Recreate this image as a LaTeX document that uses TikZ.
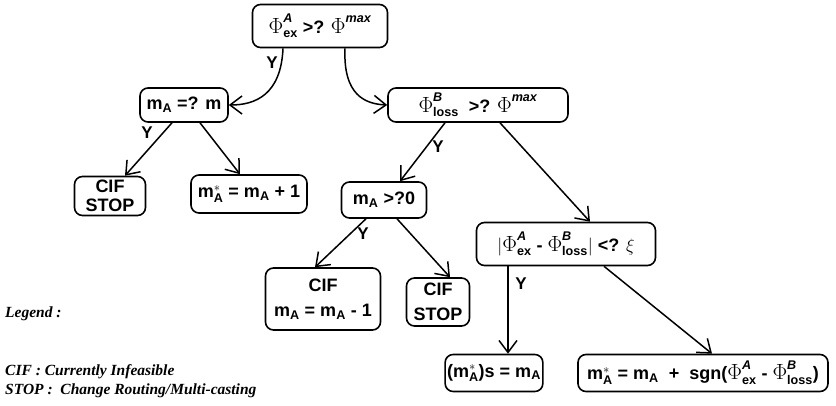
\RequirePackage{fix-cm}
\documentclass[tikz,border=0pt]{standalone}
\usepackage{amsmath}
\usepackage{fontspec}
\setsansfont{Liberation Sans}
\newfontfamily\legendfont{Liberation Serif}
\usetikzlibrary{arrows.meta,calc}
\tikzset{
  box/.style={draw,line width=1.6pt,rounded corners=8pt,align=center,inner sep=2pt,
    font=\sffamily\bfseries\fontsize{18}{19}\selectfont},
  arr/.style={line width=1.5pt,-{Straight Barb[length=12pt,width=18pt,line width=1.5pt]}},
  ylab/.style={font=\sffamily\bfseries\fontsize{17}{18}\selectfont,inner sep=0pt},
  legtext/.style={font=\legendfont\bfseries\itshape\fontsize{15.5}{17}\selectfont,anchor=west,inner sep=0pt}
}
\newcommand{\sA}{\text{\itshape A}}
\newcommand{\sB}{\text{\itshape B}}
\newcommand{\smax}{\text{\itshape max}}
\newcommand{\Ph}{\text{\fontsize{22}{22}\selectfont$\Phi$}}
\begin{document}
\begin{tikzpicture}[x=1pt,y=-1pt]
\useasboundingbox (0,0) rectangle (836,406);
\node[box,minimum width=135pt,minimum height=43pt] (top) at (320,26)
  {$\Ph^{\sA}_{\text{ex}}$ >? $\Ph^{\smax}$};
\node[box,minimum width=88pt,minimum height=34pt] (mq) at (184,105)
  {m$_{\text{A}}$ =? m};
\node[box,minimum width=180pt,minimum height=34pt] (loss) at (478,105)
  {$\Ph^{\sB}_{\text{loss}}$\ \ >? $\Ph^{\smax}$};
\node[box,minimum width=71pt,minimum height=39pt,inner sep=0pt] (cs1) at (110,196)
  {CIF\\[0pt]STOP};
\node[box,minimum width=116pt,minimum height=38pt] (mstar) at (249,194)
  {m$^{\ast}_{\text{A}}$ = m$_{\text{A}}$ + 1};
\node[box,minimum width=85pt,minimum height=36pt] (mgt) at (384,200)
  {m$_{\text{A}}$ >?0};
\node[box,minimum width=179pt,minimum height=43pt] (abs) at (566,244)
  {$|\Ph^{\sA}_{\text{ex}}$ - $\Ph^{\sB}_{\text{loss}}|$ <? $\xi$};
\node[box,minimum width=115pt,minimum height=62pt] (cifm) at (323,299)
  {CIF\\[6pt]m$_{\text{A}}$ = m$_{\text{A}}$ - 1};
\node[box,minimum width=63pt,minimum height=48pt,inner sep=0pt] (cs2) at (438,302)
  {CIF\\[6pt]STOP};
\node[box,minimum width=94pt,minimum height=37pt] (ms) at (494,373)
  {(m$^{\ast}_{\text{A}}$)s = m$_{\text{A}}$};
\node[box,minimum width=250pt,minimum height=37pt] (sgn) at (703,373)
  {m$^{\ast}_{\text{A}}$ = m$_{\text{A}}$\ \ +\ \ sgn($\Ph^{\sA}_{\text{ex}}$ - $\Ph^{\sB}_{\text{loss}}$)};
% connectors
\draw[arr] ([xshift=-37pt]top.south) .. controls (281,95) and (255,105) .. (mq.east);
\draw[arr] ([xshift=25pt]top.south) .. controls (343,95) and (365,104) .. (loss.west);
\draw[arr] ([xshift=-12pt]mq.south) -- ([xshift=15pt]cs1.north);
\draw[arr] ([xshift=16pt]mq.south) -- ([xshift=-9pt]mstar.north);
\draw[arr] ([xshift=-33pt]loss.south) -- ([xshift=16pt]mgt.north);
\draw[arr] ([xshift=22pt]loss.south) -- ([xshift=24pt]abs.north);
\draw[arr] ([xshift=-18pt]mgt.south) -- ([xshift=-8pt]cifm.north);
\draw[arr] ([xshift=13pt]mgt.south) -- ([xshift=12pt]cs2.north);
\draw[arr] ([xshift=-58pt]abs.south) -- ([xshift=14pt]ms.north);
\draw[arr] ([xshift=38pt]abs.south) -- ([xshift=9pt]sgn.north);
% Y labels
\node[ylab] (y1) at (272,63) {Y};
\node[ylab] (y2) at (147,133) {Y};
\node[ylab] (y3) at (438,147) {Y};
\node[ylab] (y4) at (363,234) {Y};
\node[ylab] (y5) at (521,284) {Y};
% legend
\node[legtext] (leg) at (5,314) {Legend :};
\node[legtext] (l1) at (5,372) {CIF : Currently Infeasible};
\node[legtext] (l2) at (5,391) {STOP :\ \ Change Routing/Multi-casting};
\end{tikzpicture}
\end{document}
